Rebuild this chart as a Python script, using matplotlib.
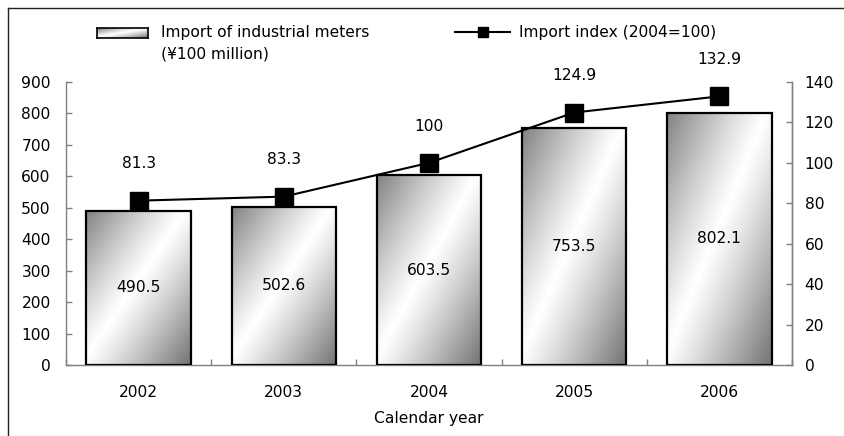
import numpy as np
import matplotlib
matplotlib.use("Agg")
import matplotlib.pyplot as plt
from matplotlib.lines import Line2D

# Import of industrial meters and import index by calendar year
years = ["2002", "2003", "2004", "2005", "2006"]
import_value = [490.5, 502.6, 603.5, 753.5, 802.1]   # ¥100 million
import_index = [81.3, 83.3, 100, 124.9, 132.9]       # 2004 = 100

value_ticks = list(range(0, 901, 100))
index_ticks = list(range(0, 141, 20))

bar_label = "Import of industrial meters\n(¥100 million)"
line_label = "Import index (2004=100)"
x_title = "Calendar year"

plt.rcParams["font.family"] = ["DejaVu Sans"]
FS = 11.2
AXIS_GRAY = "#808080"

W, H = 844, 436
fig = plt.figure(figsize=(W / 100, H / 100), dpi=100)
ax = fig.add_axes([66 / W, 1 - 365 / H, (792 - 66) / W, (365 - 82) / H])
ax2 = ax.twinx()


def shade(nx=80, ny=80):
    """Diagonal grey-white-grey gradient used for the bar fills."""
    u = np.linspace(0, 1, nx)
    v = np.linspace(1, 0, ny)
    U, V = np.meshgrid(u, v)
    s = np.abs(U - V + 0.05)
    g = 1 - 0.52 * np.clip(s, 0, 1) ** 1.15
    return np.dstack([g, g, g])


x = np.arange(len(years))
bar_w = 0.72
bars = ax.bar(x, import_value, width=bar_w, facecolor="none",
              edgecolor="black", linewidth=1.6, zorder=3)
for rect, val in zip(bars, import_value):
    x0 = rect.get_x()
    ax.imshow(shade(), extent=[x0, x0 + rect.get_width(), 0, rect.get_height()],
              aspect="auto", interpolation="bilinear", zorder=2)
    ax.text(rect.get_x() + rect.get_width() / 2, val / 2, f"{val:.1f}",
            ha="center", va="center", fontsize=FS, zorder=5)

ax.set_xlim(-0.5, len(years) - 0.5)
ax.set_ylim(0, 900)
ax.set_yticks(value_ticks)
ax.set_xticks(x)
ax.set_xticklabels(years, fontsize=FS)
ax.set_xticks(np.arange(-0.5, len(years), 1), minor=True)
ax.tick_params(axis="x", which="major", length=0, pad=14.5)
ax.tick_params(axis="x", which="minor", direction="in", length=4.5,
               color=AXIS_GRAY, width=1)
ax.tick_params(axis="y", direction="in", length=4.5, color=AXIS_GRAY,
               width=1, labelsize=FS, pad=11)
ax.set_xlabel(x_title, fontsize=FS, labelpad=8)

# index line on the right-hand axis
ax2.plot(x, import_index, color="black", linewidth=1.5, marker="s",
         markersize=13.5, markerfacecolor="black", markeredgecolor="black",
         zorder=4)
for xi, v in zip(x, import_index):
    ax2.annotate(f"{v:g}", (xi, v), xytext=(0, 26.5), textcoords="offset points",
                 ha="center", va="center", fontsize=FS)
ax2.set_ylim(0, 140)
ax2.set_yticks(index_ticks)
ax2.tick_params(axis="y", direction="in", length=4.5, color=AXIS_GRAY,
                width=1, labelsize=FS, pad=9)

for a in (ax, ax2):
    a.spines["top"].set_visible(False)
    for side in ("left", "right", "bottom"):
        a.spines[side].set_color(AXIS_GRAY)
        a.spines[side].set_linewidth(1)
ax2.spines["left"].set_visible(False)
ax2.spines["bottom"].set_visible(False)

# legend drawn along the top
sw = fig.add_axes([97 / W, 1 - 38 / H, 51 / W, 10 / H])
sw.imshow(shade(60, 12), aspect="auto", interpolation="bilinear")
sw.set_xticks([])
sw.set_yticks([])
for s in sw.spines.values():
    s.set_color("black")
    s.set_linewidth(1.2)
fig.text(161 / W, 1 - 58.4 / H, bar_label, fontsize=FS, va="baseline",
         ha="left", linespacing=1.5)

fig.add_artist(Line2D([455 / W, 510 / W], [1 - 32 / H] * 2,
                      transform=fig.transFigure, color="black", linewidth=1.5))
fig.add_artist(Line2D([482.5 / W], [1 - 32 / H], transform=fig.transFigure,
                      marker="s", markersize=7.5, color="black"))
fig.text(519 / W, 1 - 36.7 / H, line_label, fontsize=FS, va="baseline",
         ha="left")

# outer frame lines
fig.add_artist(Line2D([8 / W, 1], [1 - 8 / H] * 2, transform=fig.transFigure,
                      color="#222222", linewidth=1))
fig.add_artist(Line2D([7.5 / W] * 2, [0, 1 - 8 / H], transform=fig.transFigure,
                      color="#222222", linewidth=1))

fig.savefig("out.png", dpi=100)
